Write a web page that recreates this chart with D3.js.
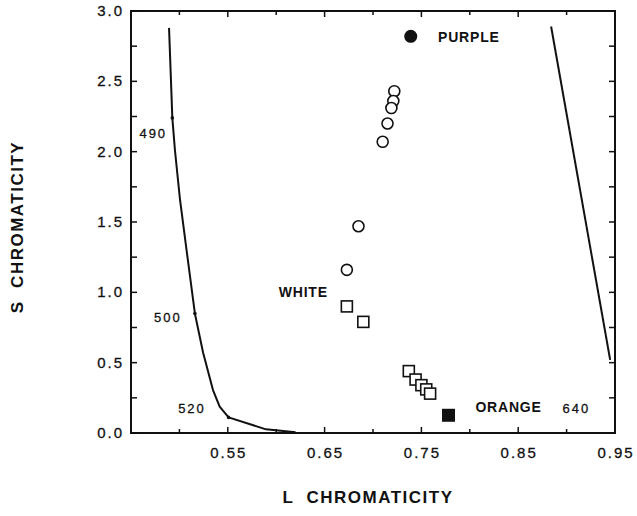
<!DOCTYPE html>
<html>
<head>
<meta charset="utf-8">
<title>L and S chromaticity</title>
<script src="https://cdn.jsdelivr.net/npm/d3@7"></script>
<style>
  body { margin: 0; background: #fff; }
  text { font-family: "Liberation Sans", Arial, sans-serif; fill: #111; }
</style>
</head>
<body>
<div id="chart"></div>
<script>
// spectrum locus, short-wave limb (L, S)
const locusLeft = [[0.4893, 2.88], [0.4927, 2.24], [0.4954, 2.01], [0.5006, 1.66], [0.5074, 1.30],
                   [0.5160, 0.85], [0.5245, 0.57], [0.5347, 0.305], [0.5416, 0.187], [0.5508, 0.111],
                   [0.5895, 0.026], [0.620, 0.006]];
// long-wave limb
const locusRight = [[0.884, 2.89], [0.945, 0.52]];
const locusLabels = ["490", "500", "520", "640"];
const locusLabelPos = [[0.473, 2.10], [0.488, 0.79], [0.513, 0.14], [0.910, 0.14]];
// small marks on the locus at the labelled wavelengths
const locusMarks = [[0.4927, 2.24], [0.5160, 0.85], [0.5508, 0.111]];

// open circles and squares
const circleL = [0.722, 0.721, 0.719, 0.715, 0.710, 0.685, 0.673];
const circleS = [2.43, 2.36, 2.31, 2.20, 2.07, 1.47, 1.16];
const squareL = [0.673, 0.690, 0.737, 0.744, 0.750, 0.755, 0.759];
const squareS = [0.90, 0.79, 0.44, 0.38, 0.34, 0.31, 0.28];
// endpoints
const purple = [0.739, 2.82];
const orange = [0.778, 0.126];

const xTicks = [0.55, 0.65, 0.75, 0.85, 0.95];
const xMinor = [0.50, 0.60, 0.70, 0.80, 0.90];
const yTicks = [0, 0.5, 1.0, 1.5, 2.0, 2.5, 3.0];
const yMinor = [0.25, 0.75, 1.25, 1.75, 2.25, 2.75];

const width = 637, height = 516;
const margin = {top: 11, right: 22, bottom: 83, left: 131};

const svg = d3.select("#chart").append("svg")
    .attr("width", width)
    .attr("height", height);

const x = d3.scaleLinear().domain([0.45, 0.95]).range([margin.left, width - margin.right]);
const y = d3.scaleLinear().domain([0, 3]).range([height - margin.bottom, margin.top]);

const x0 = x.range()[0], x1 = x.range()[1];
const y0 = y.range()[0], y1 = y.range()[1];

// frame
svg.append("rect")
    .attr("x", x0).attr("y", y1)
    .attr("width", x1 - x0).attr("height", y0 - y1)
    .attr("fill", "none").attr("stroke", "#111").attr("stroke-width", 2);

// inward ticks on all four sides
const tickLen = 6, minorLen = 4;
const g = svg.append("g").attr("stroke", "#111").attr("stroke-width", 1.5);
xTicks.slice(0, -1).forEach(v => {
  g.append("line").attr("x1", x(v)).attr("x2", x(v)).attr("y1", y0).attr("y2", y0 - tickLen);
  g.append("line").attr("x1", x(v)).attr("x2", x(v)).attr("y1", y1).attr("y2", y1 + tickLen);
});
xMinor.forEach(v => {
  g.append("line").attr("x1", x(v)).attr("x2", x(v)).attr("y1", y0).attr("y2", y0 - minorLen);
  g.append("line").attr("x1", x(v)).attr("x2", x(v)).attr("y1", y1).attr("y2", y1 + minorLen);
});
[...yTicks, ...yMinor].forEach(v => {
  g.append("line").attr("x1", x0).attr("x2", x0 + tickLen).attr("y1", y(v)).attr("y2", y(v));
  g.append("line").attr("x1", x1).attr("x2", x1 - tickLen).attr("y1", y(v)).attr("y2", y(v));
});

// tick labels
svg.append("g").selectAll("text").data(xTicks).join("text")
    .attr("x", d => x(d) + 1).attr("y", y0 + 25)
    .attr("text-anchor", "middle")
    .attr("font-size", 15).attr("letter-spacing", 2)
    .attr("stroke", "#111").attr("stroke-width", 0.3)
    .text(d => d3.format(".2f")(d));

svg.append("g").selectAll("text").data(yTicks).join("text")
    .attr("x", x0 - 7).attr("y", d => y(d) + 5)
    .attr("text-anchor", "end")
    .attr("font-size", 15).attr("letter-spacing", 2)
    .attr("stroke", "#111").attr("stroke-width", 0.3)
    .text(d => d3.format(".1f")(d));

// axis titles
svg.append("text")
    .attr("x", (x0 + x1) / 2 - 5).attr("y", 503)
    .attr("text-anchor", "middle")
    .attr("font-size", 17).attr("font-weight", "bold").attr("letter-spacing", 1.5)
    .attr("xml:space", "preserve")
    .text("L  CHROMATICITY");

svg.append("text")
    .attr("transform", `translate(23,${(y0 + y1) / 2 + 5}) rotate(-90)`)
    .attr("text-anchor", "middle")
    .attr("font-size", 17).attr("font-weight", "bold").attr("letter-spacing", 1.5)
    .attr("xml:space", "preserve")
    .text("S  CHROMATICITY");

// spectrum locus
const line = d3.line().x(d => x(d[0])).y(d => y(d[1]));
svg.append("g").selectAll("path").data([locusLeft, locusRight]).join("path")
    .attr("d", line)
    .attr("fill", "none").attr("stroke", "#111").attr("stroke-width", 2)
    .attr("stroke-linejoin", "round");

svg.append("g").selectAll("circle").data(locusMarks).join("circle")
    .attr("cx", d => x(d[0])).attr("cy", d => y(d[1]))
    .attr("r", 1.8).attr("fill", "#111");

svg.append("g").selectAll("text").data(locusLabels).join("text")
    .attr("x", (d, i) => x(locusLabelPos[i][0]))
    .attr("y", (d, i) => y(locusLabelPos[i][1]))
    .attr("text-anchor", "middle")
    .attr("font-size", 13).attr("letter-spacing", 2)
    .attr("stroke", "#111").attr("stroke-width", 0.3)
    .text(d => d);

// open circles
svg.append("g").selectAll("circle").data(circleL).join("circle")
    .attr("cx", d => x(d)).attr("cy", (d, i) => y(circleS[i]))
    .attr("r", 5.5)
    .attr("fill", "#fff").attr("stroke", "#111").attr("stroke-width", 1.6);

// open squares
const sq = 11;
svg.append("g").selectAll("rect").data(squareL).join("rect")
    .attr("x", d => x(d) - sq / 2).attr("y", (d, i) => y(squareS[i]) - sq / 2)
    .attr("width", sq).attr("height", sq)
    .attr("fill", "#fff").attr("stroke", "#111").attr("stroke-width", 1.6);

// filled endpoints
svg.append("circle")
    .attr("cx", x(purple[0])).attr("cy", y(purple[1]))
    .attr("r", 6.5).attr("fill", "#111");
svg.append("rect")
    .attr("x", x(orange[0]) - 6.5).attr("y", y(orange[1]) - 6.5)
    .attr("width", 13).attr("height", 13).attr("fill", "#111");

// point labels
const notes = [["PURPLE", 0.799, 2.78], ["WHITE", 0.628, 0.97], ["ORANGE", 0.840, 0.15]];
svg.append("g").selectAll("text").data(notes).join("text")
    .attr("x", d => x(d[1])).attr("y", d => y(d[2]))
    .attr("text-anchor", "middle")
    .attr("font-size", 14).attr("font-weight", 600).attr("letter-spacing", 0.8)
    .text(d => d[0]);
</script>
</body>
</html>
